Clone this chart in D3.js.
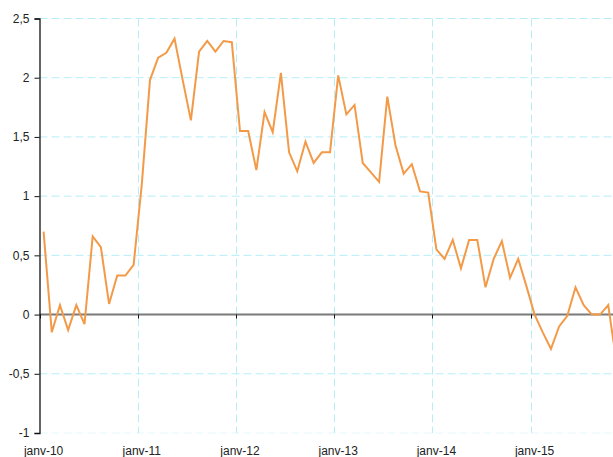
<!DOCTYPE html>
<html>
<head>
<meta charset="utf-8">
<script src="https://cdn.jsdelivr.net/npm/d3@7"></script>
<style>
  html, body { margin: 0; padding: 0; background: #fff; overflow: hidden; }
  svg { display: block; font-family: "Liberation Sans", Arial, sans-serif; }
  .grid line { stroke: #b6eef8; stroke-width: 1; stroke-dasharray: 8 4; }
  .tick-label { font-size: 12px; fill: #222; }
</style>
</head>
<body>
<div class="chart"></div>
<script>
// monthly series, janv-10 to nov-15 (last category déc-15 has no value)
const years = ['10', '11', '12', '13', '14', '15']
const monthNames = ['janv', 'févr', 'mars', 'avr', 'mai', 'juin', 'juil', 'août', 'sept', 'oct', 'nov', 'déc']
const categories = years.flatMap(y => monthNames.map(m => m + '-' + y))

const values = [
  0.70, -0.15, 0.08, -0.13, 0.08, -0.08, 0.66, 0.57, 0.09, 0.33, 0.33, 0.42,
  1.10, 1.98, 2.17, 2.21, 2.33, 1.98, 1.64, 2.22, 2.31, 2.22, 2.31, 2.30,
  1.55, 1.55, 1.22, 1.71, 1.54, 2.04, 1.37, 1.21, 1.46, 1.28, 1.37, 1.37,
  2.02, 1.69, 1.77, 1.28, 1.20, 1.12, 1.84, 1.43, 1.19, 1.27, 1.04, 1.03,
  0.55, 0.47, 0.63, 0.39, 0.63, 0.63, 0.23, 0.47, 0.62, 0.31, 0.47, 0.24,
  0.00, -0.15, -0.29, -0.10, -0.01, 0.23, 0.08, 0.00, 0.00, 0.08, -0.40
]

const yTicks = [-1, -0.5, 0, 0.5, 1, 1.5, 2, 2.5]

const width = 613
const height = 457

const margin = { left: 39.5, top: 18.5, bottom: 433 }
const plotRight = 628.7

const x = d3.scaleBand()
  .domain(categories)
  .range([margin.left, plotRight])
  .padding(0)

const y = d3.scaleLinear()
  .domain([-1, 2.5])
  .range([margin.bottom, margin.top])

const fmt = d => String(d).replace('.', ',')

const svg = d3.select('.chart')
  .append('svg')
  .attr('width', width)
  .attr('height', height)

// year boundaries = january categories
const janv = categories.filter(c => c.startsWith('janv'))

const grid = svg.append('g').attr('class', 'grid')

grid.selectAll('.hgrid')
  .data(yTicks.filter(d => d !== 0))
  .enter()
  .append('line')
  .attr('class', 'hgrid')
  .attr('x1', margin.left)
  .attr('x2', plotRight)
  .attr('y1', d => y(d))
  .attr('y2', d => y(d))
  .style('opacity', d => d === -1 ? 0.35 : 1)

grid.selectAll('.vgrid')
  .data(janv.slice(1))
  .enter()
  .append('line')
  .attr('class', 'vgrid')
  .attr('x1', d => Math.round(x(d)) + 0.5)
  .attr('x2', d => Math.round(x(d)) + 0.5)
  .attr('y1', margin.top)
  .attr('y2', margin.bottom)

// zero line
svg.append('line')
  .attr('x1', margin.left)
  .attr('x2', plotRight)
  .attr('y1', y(0))
  .attr('y2', y(0))
  .style('stroke', '#7a7a7a')
  .style('stroke-width', 2)

// small ticks on the zero line
svg.selectAll('.xtick')
  .data(janv)
  .enter()
  .append('line')
  .attr('x1', d => Math.round(x(d)) + 0.5)
  .attr('x2', d => Math.round(x(d)) + 0.5)
  .attr('y1', y(0))
  .attr('y2', y(0) + 4)
  .style('stroke', '#111')
  .style('stroke-width', 1)

// y axis
const yAxis = svg.append('g')
  .attr('transform', 'translate(' + margin.left + ',0)')
  .call(d3.axisLeft(y).tickValues(yTicks).tickSize(5).tickPadding(5).tickFormat(fmt))

yAxis.select('.domain').style('stroke', '#111').style('stroke-width', 1.3)
yAxis.selectAll('.tick line').style('stroke', '#111')
yAxis.selectAll('text')
  .attr('class', 'tick-label')
  .style('font-size', '12px')
  .style('font-family', '"Liberation Sans", Arial, sans-serif')
  .style('fill', '#222')

// x labels
svg.selectAll('.xlabel')
  .data(janv)
  .enter()
  .append('text')
  .attr('class', 'tick-label')
  .attr('x', d => x(d) + x.bandwidth() / 2)
  .attr('y', 455)
  .attr('text-anchor', 'middle')
  .text(d => d)

// series
const line = d3.line()
  .x((d, i) => x(categories[i]) + x.bandwidth() / 2)
  .y(d => y(d))

svg.append('path')
  .datum(values)
  .attr('d', line)
  .style('fill', 'none')
  .style('stroke', '#f39a48')
  .style('stroke-width', 2)
  .style('stroke-linejoin', 'miter')
</script>
</body>
</html>
